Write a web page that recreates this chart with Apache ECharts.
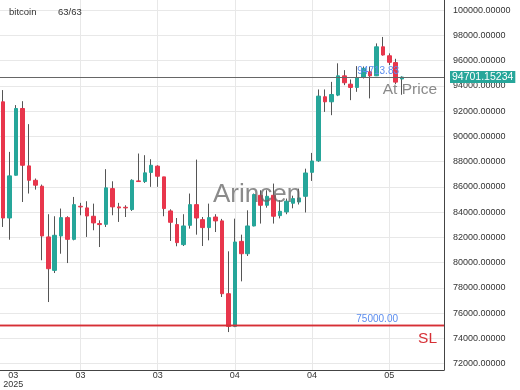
<!DOCTYPE html>
<html><head><meta charset="utf-8">
<script src="https://cdn.jsdelivr.net/npm/echarts@6/dist/echarts.min.js"></script>
<style>html,body{margin:0;padding:0;background:#fff}#c{width:520px;height:390px}</style>
</head><body><div id="c"></div>
<script>
// candle values (63 daily candles)
const opens  = [92740,83530,86920,92210,87660,86520,86050,82030,79380,82110,83560,81840,84460,84330,83670,83090,83030,85860,84410,84380,84200,86470,86420,87140,87640,86790,84090,83010,81420,82950,84590,83400,82770,83610,83300,77530,74940,81680,80700,82900,85330,84540,85330,83720,84010,84700,84800,85250,87150,88060,93140,92740,93270,94800,94140,93880,94670,95120,94800,97100,96390,95850,94550];
const closes = [83530,86870,92210,87710,86520,86130,82110,79510,82160,83560,81840,84590,84410,83690,83140,83010,85920,84410,84330,84330,86520,86420,87110,87710,86840,84280,83190,81580,82900,84590,83530,82770,83560,83300,77530,74940,81630,80700,82900,85390,84540,85250,83670,84060,84860,85070,85120,87100,88050,93190,92740,93320,94800,94250,93880,94640,95390,94800,97100,96450,95870,94300,94701.15];
const lows   = [82820,81810,86900,84800,85470,85780,80180,76870,79170,80700,79960,81760,83750,82030,82560,81230,82820,83750,83220,83610,84090,86390,86310,86000,86000,83670,81710,81290,81310,82690,82210,81310,81760,82420,77270,74490,74880,78510,80520,82870,83090,84350,83090,83500,83830,84300,84600,83970,86470,87980,91940,91680,93190,94060,92870,93530,94590,93010,94780,96400,95650,94150,93300];
const highs  = [93670,88770,92480,92790,90970,86660,86180,83830,83670,84280,83670,85200,84730,84860,84670,83350,87400,86440,84730,84540,86600,88640,88510,88190,87710,86790,84220,83530,83830,85470,88160,83610,84670,83830,83460,80890,83480,82210,84140,85470,85730,85730,86260,84940,85070,85300,85860,87440,88690,93720,93720,94320,95790,95250,94510,95570,95540,95520,97370,97880,96580,96150,94760];

const slotCount = 69;                     // category slots on the time axis
const tickIndex  = [0, 12, 24, 36, 48, 60];
const tickLabels = ['  03\n2025', '03', '03', '04', '04', '05'];
const yMin = 71484, yMax = 100809;
const lastPrice = 94701.15234;
const atPrice = 94713.83;
const stopLoss = 75000;
const legendName = 'bitcoin';
const legendCount = '63/63';
const watermark = 'Arincen';

const UP = '#26a69a', DOWN = '#e8364c', WICK = '#555', SLRED = '#d62f35';
const FONT = 'Liberation Sans, Arial, sans-serif';

const categories = Array.from({length: slotCount}, (_, i) => String(i));
const wickData = opens.map((o, i) => [lows[i], highs[i], lows[i], highs[i]]);
const bodyData = opens.map((o, i) => [o, closes[i], Math.min(o, closes[i]), Math.max(o, closes[i])]);

const chart = echarts.init(document.getElementById('c'));
chart.setOption({
  animation: false,
  textStyle: {fontFamily: FONT},
  title: [
    {text: legendName, left: 9, top: 7, padding: 0, textStyle: {fontSize: 9.5, fontWeight: 'normal', color: '#333', fontFamily: FONT}},
    {text: legendCount, left: 58, top: 7, padding: 0, textStyle: {fontSize: 9.5, fontWeight: 'normal', color: '#333', fontFamily: FONT}}
  ],
  grid: {left: 0, right: 76, top: 0, bottom: 20},
  xAxis: {
    type: 'category', data: categories, boundaryGap: true,
    axisLine: {lineStyle: {color: '#444'}},
    axisTick: {show: false},
    axisLabel: {
      interval: (i) => tickIndex.includes(i),
      formatter: (v, i) => { const k = tickIndex.indexOf(i); return k >= 0 ? tickLabels[k] : ''; },
      fontSize: 9, color: '#333', margin: 1, lineHeight: 9, alignMinLabel: 'left', fontFamily: FONT
    },
    splitLine: {show: true, alignWithLabel: true, interval: (i) => tickIndex.includes(i) && i > 0, lineStyle: {color: '#e8e8e8'}}
  },
  yAxis: {
    type: 'value', position: 'right', min: yMin, max: yMax, splitNumber: 15,
    axisLine: {show: true, lineStyle: {color: '#444'}},
    axisTick: {show: false},
    axisLabel: {showMinLabel: false, showMaxLabel: false, formatter: (v) => v.toFixed(5), fontSize: 9, color: '#333', margin: 9, fontFamily: FONT},
    splitLine: {show: true, showMinLine: false, showMaxLine: false, lineStyle: {color: '#e8e8e8'}}
  },
  series: [
    {
      type: 'candlestick', data: wickData, barWidth: 0.01, silent: true, clip: false,
      itemStyle: {color: WICK, color0: WICK, borderColor: WICK, borderColor0: WICK, borderWidth: 1}
    },
    {
      type: 'candlestick', data: bodyData, barWidth: 4, clip: false, silent: true,
      itemStyle: {color: UP, color0: DOWN, borderColor: UP, borderColor0: DOWN, borderWidth: 1},
      markLine: {
        symbol: ['none', 'none'], silent: true, animation: false,
        lineStyle: {type: 'solid', width: 1, color: '#666'},
        data: [
          {yAxis: lastPrice,
           label: {show: true, position: 'end', distance: 6, formatter: () => lastPrice.toFixed(5),
                   backgroundColor: UP, color: '#fff', padding: [1, 2, 0, 2], fontSize: 10.5, fontFamily: FONT}},
          {yAxis: atPrice,
           label: {show: true, position: 'insideEndTop', distance: [45, 1], formatter: () => atPrice.toFixed(2),
                   color: '#5b8def', fontSize: 10, fontFamily: FONT}},
          {yAxis: atPrice,
           label: {show: true, position: 'insideEndBottom', distance: [7, 5], formatter: 'At Price',
                   color: '#8a8a8a', fontSize: 15.5, fontFamily: FONT}}
        ]
      }
    },
    {
      type: 'line', data: [], silent: true, color: SLRED,
      markLine: {
        symbol: ['none', 'none'], silent: true, animation: false,
        lineStyle: {type: 'solid', width: 1.3, color: SLRED, opacity: 1},
        data: [
          {yAxis: stopLoss,
           label: {show: true, position: 'insideEndTop', distance: [46, 1], formatter: () => stopLoss.toFixed(2),
                   color: '#5b8def', fontSize: 10, fontFamily: FONT}},
          {yAxis: stopLoss,
           label: {show: true, position: 'insideEndBottom', distance: [7, 5], formatter: 'SL',
                   color: SLRED, fontSize: 15.5, fontFamily: FONT}}
        ]
      }
    }
  ],
  graphic: [
    {type: 'text', left: 213, top: 182, z: 100, silent: true,
     style: {text: watermark, fontSize: 26, fontFamily: FONT, fill: 'rgba(100,100,100,0.75)'}}
  ]
});
</script></body></html>
